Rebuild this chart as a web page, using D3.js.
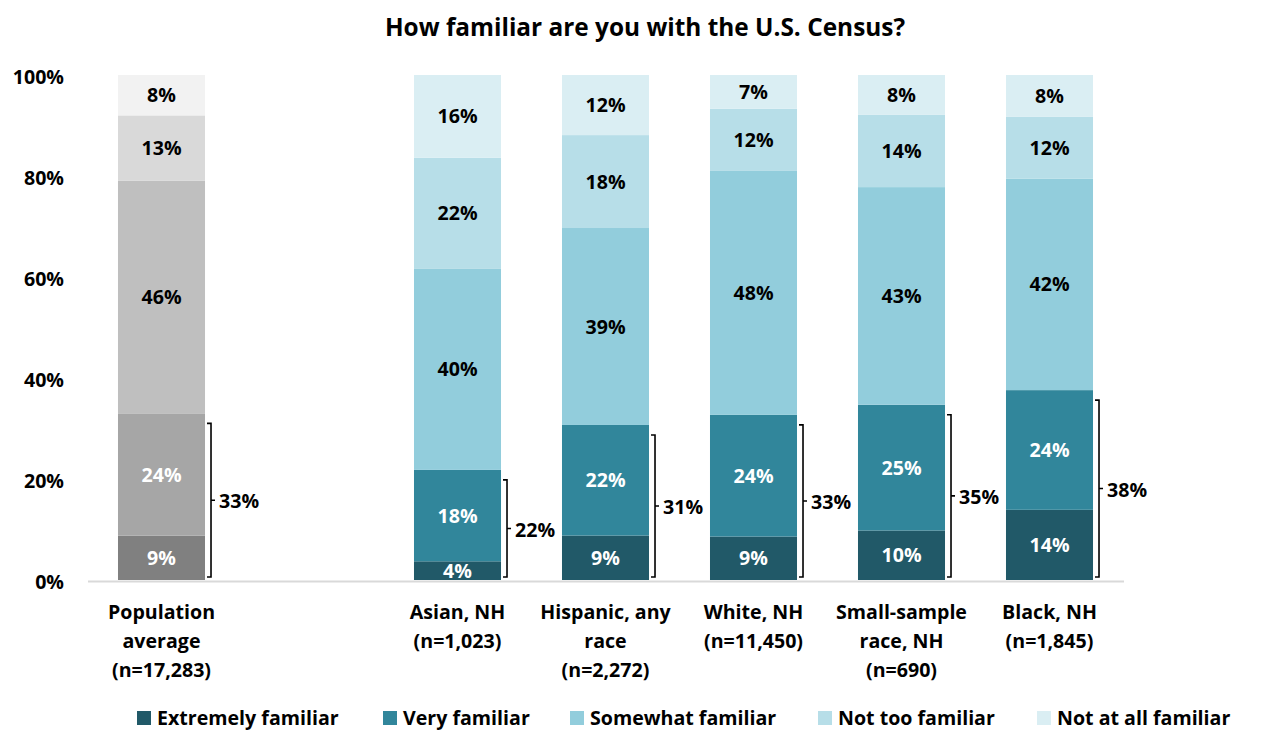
<!DOCTYPE html>
<html><head><meta charset="utf-8">
<script src="https://cdn.jsdelivr.net/npm/d3@7"></script>
<style>
body{margin:0;background:#fff;}
text{font-family:"Open Sans",Lato,sans-serif;font-weight:bold;}
</style></head>
<body><svg id="c" width="1268" height="731"></svg>
<script>
const title = "How familiar are you with the U.S. Census?";
const categories = ["Population average (n=17,283)", "Asian, NH (n=1,023)", "Hispanic, any race (n=2,272)", "White, NH (n=11,450)", "Small-sample race, NH (n=690)", "Black, NH (n=1,845)"];
const categoryLines = [["Population","average","(n=17,283)"],["Asian, NH","(n=1,023)"],["Hispanic, any","race","(n=2,272)"],["White, NH","(n=11,450)"],["Small-sample","race, NH","(n=690)"],["Black, NH","(n=1,845)"]];
const seriesNames = ["Extremely familiar","Very familiar","Somewhat familiar","Not too familiar","Not at all familiar"];
const extremely = [8.8, 3.7, 8.8, 8.6, 9.8, 13.9];
const very      = [24.2, 18.1, 21.9, 24.1, 24.9, 23.7];
const somewhat  = [46.1, 39.8, 39.0, 48.3, 43.1, 41.9];
const notToo    = [12.9, 22.0, 18.4, 12.3, 14.3, 12.2];
const notAtAll  = [8.0, 16.4, 11.9, 6.7, 7.9, 8.3];
const yTicks = [0, 20, 40, 60, 80, 100];

const tealColors = ["#215968","#31869B","#92CDDC","#B7DEE8","#DAEEF3"];
const greyColors = ["#808080","#A6A6A6","#BFBFBF","#D9D9D9","#F2F2F2"];
const labelColors = ["#fff","#fff","#000","#000","#000"];

const series = [extremely, very, somewhat, notToo, notAtAll];
const rows = categories.map((c,i)=>{const r={cat:c,idx:i}; seriesNames.forEach((s,j)=>r[s]=series[j][i]); return r;});
const stacked = d3.stack().keys(seriesNames)(rows);

const svg = d3.select("#c");
const slots = [categories[0], "__gap__", ...categories.slice(1)];
const x = d3.scaleBand().domain(slots).range([87.5, 1123.5]).paddingInner(0.412).paddingOuter(0.206);
const y = d3.scaleLinear().domain([0,100]).range([580, 75]);

const FS = 19.6;
svg.append("text").attr("x", 645).attr("y", 27).attr("dy","0.36em").attr("text-anchor","middle")
  .attr("font-size", 24.4).attr("fill","#000").text(title);

// y axis labels
const yAxis = d3.axisLeft(y).tickValues(yTicks).tickFormat(d=>d+"%").tickSize(0).tickPadding(0);
const ga = svg.append("g").attr("transform","translate(64,1.5)").call(yAxis);
ga.select(".domain").remove();
ga.selectAll("text").attr("font-size",FS).attr("fill","#000").attr("dy","0.36em")
  .style("font-family","'Open Sans',sans-serif").style("font-weight","bold");

// bars
stacked.forEach((layer, j)=>{
  const g = svg.append("g");
  g.selectAll("rect").data(layer).join("rect")
    .attr("x", d=>x(d.data.cat)).attr("width", x.bandwidth())
    .attr("y", d=>y(d[1])).attr("height", d=>y(d[0])-y(d[1]))
    .attr("fill", d=> d.data.idx===0 ? greyColors[j] : tealColors[j]);
  g.selectAll("text").data(layer).join("text")
    .attr("x", d=>x(d.data.cat)+x.bandwidth()/2)
    .attr("y", d=>(y(d[0])+y(d[1]))/2).attr("dy","0.36em")
    .attr("text-anchor","middle").attr("font-size",FS)
    .attr("fill", labelColors[j])
    .text(d=>Math.round(d[1]-d[0])+"%");
});

// baseline
svg.append("line").attr("x1",88).attr("x2",1124).attr("y1",y(0)+1.5).attr("y2",y(0)+1.5)
  .attr("stroke","#D9D9D9").attr("stroke-width",2);

// brackets
stacked[1].forEach(d=>{
  const bx = x(d.data.cat)+x.bandwidth()+6;
  const top = y(d[1])+10, bot = y(0)-3, mid=(top+bot)/2;
  const g = svg.append("g").attr("fill","none").attr("stroke","#000").attr("stroke-width",1.6);
  g.append("path").attr("d",`M${bx-4},${top}H${bx}V${bot}H${bx-4}M${bx},${mid}H${bx+4}`);
  svg.append("text").attr("x",bx+8).attr("y",mid+1).attr("dy","0.36em").attr("font-size",FS)
    .attr("fill","#000").text(Math.round(d[1])+"%");
});

// category labels
categories.forEach((c,i)=>{
  const t = svg.append("text").attr("text-anchor","middle").attr("font-size",FS).attr("fill","#000");
  categoryLines[i].forEach((ln,k)=>{
    t.append("tspan").attr("x", x(c)+x.bandwidth()/2).attr("y", 612+k*29).attr("dy","0.36em").text(ln);
  });
});

// legend
const legX = [137, 383, 570, 818, 1037];
seriesNames.forEach((s,j)=>{
  svg.append("rect").attr("x",legX[j]).attr("y",711).attr("width",14).attr("height",14).attr("fill",tealColors[j]);
  svg.append("text").attr("x",legX[j]+20).attr("y",718).attr("dy","0.36em").attr("font-size",FS).attr("fill","#000").text(s);
});
</script></body></html>
